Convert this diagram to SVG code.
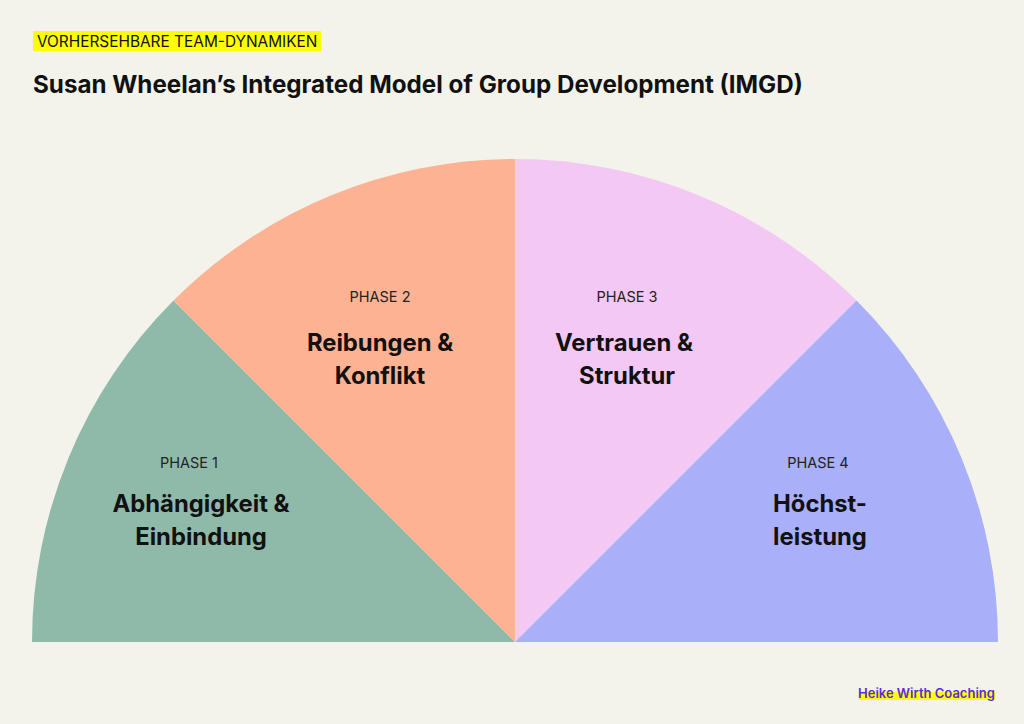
<svg xmlns="http://www.w3.org/2000/svg" width="1024" height="724" viewBox="0 0 1024 724">
<style>
text{font-family:Inter,"Liberation Sans",sans-serif;fill:#111}
.ph{font-size:14.5px;text-anchor:middle;fill:#222}
.nm{font-size:23.8px;font-weight:700;text-anchor:middle}
</style>
<rect width="1024" height="724" fill="#f3f3ec"/>
<rect x="33" y="31" width="288" height="20" fill="#ffff00"/>
<text x="37" y="47" font-size="15.4" fill="#222">VORHERSEHBARE TEAM-DYNAMIKEN</text>
<text x="33" y="93" font-size="24.2" font-weight="700">Susan Wheelan’s Integrated Model of Group Development (IMGD)</text>
<g id="phase1"><path d="M515 642 L32 642 A483 483 0 0 1 173.5 300.5 Z" fill="#8fbaa9"/>
<text class="ph" x="189" y="468">PHASE 1</text><text class="nm" x="201" y="512">Abhängigkeit &amp;</text><text class="nm" x="201" y="545">Einbindung</text></g>
<g id="phase2"><path d="M515 642 L173.5 300.5 A483 483 0 0 1 515 159 Z" fill="#fdb294"/>
<text class="ph" x="380" y="302">PHASE 2</text><text class="nm" x="380" y="351">Reibungen &amp;</text><text class="nm" x="380" y="384">Konflikt</text></g>
<g id="phase3"><path d="M515 642 L515 159 A483 483 0 0 1 856.5 300.5 Z" fill="#f4c8f4"/>
<text class="ph" x="627" y="302">PHASE 3</text><text class="nm" x="624" y="351">Vertrauen &amp;</text><text class="nm" x="627" y="384">Struktur</text></g>
<g id="phase4"><path d="M515 642 L856.5 300.5 A483 483 0 0 1 998 642 Z" fill="#a9aff8"/>
<text class="ph" x="818" y="468">PHASE 4</text><text class="nm" x="820" y="512">Höchst-</text><text class="nm" x="820" y="545">leistung</text></g>
<g id="connectors"/>
<rect x="859" y="692" width="136" height="8" fill="#ffff00"/>
<text x="858" y="698" font-size="13" font-weight="600" style="fill:#5b2be0">Heike Wirth Coaching</text>
</svg>
